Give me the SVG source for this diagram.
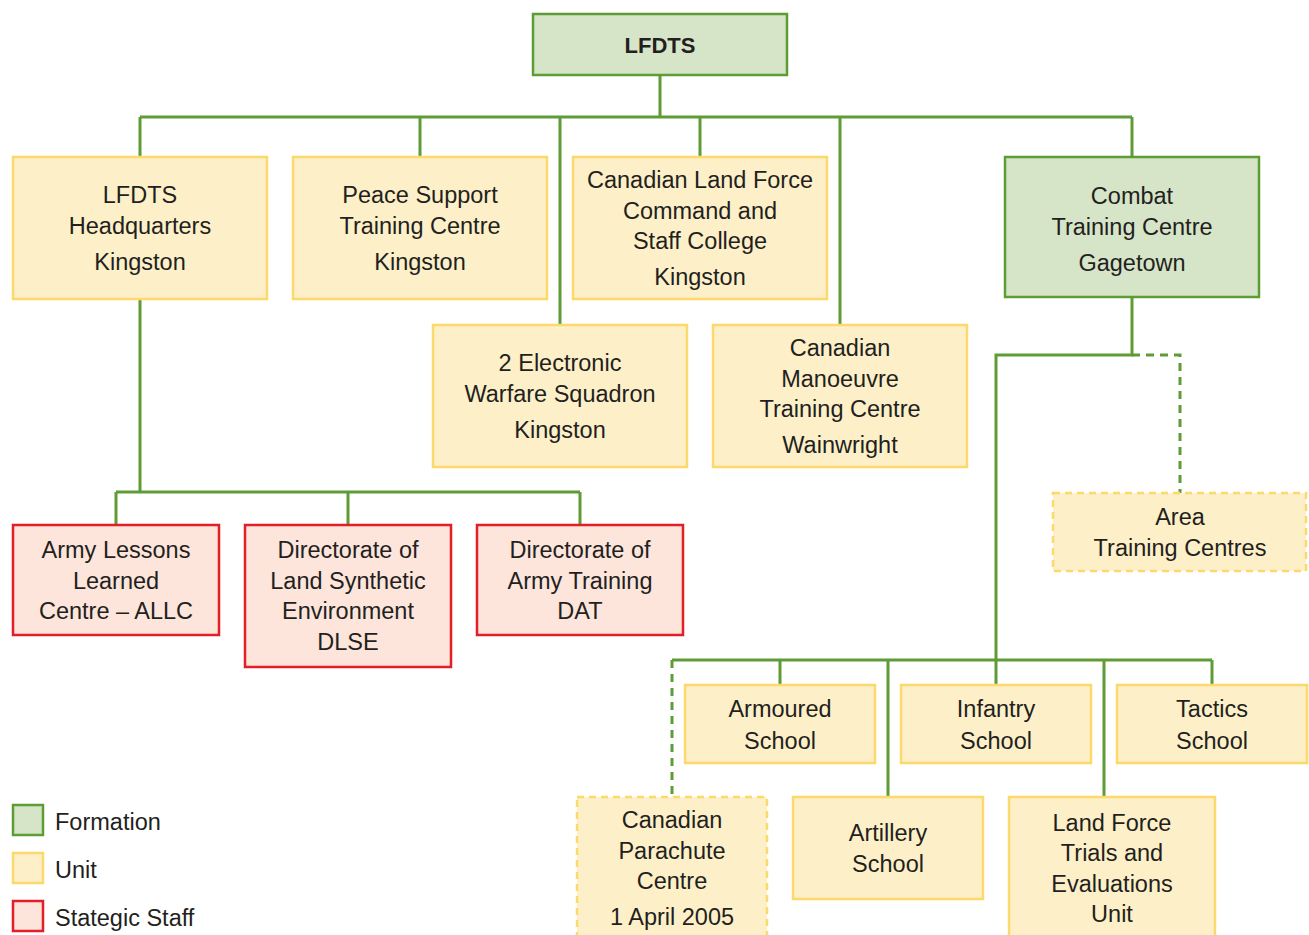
<svg xmlns="http://www.w3.org/2000/svg" width="1309" height="935" viewBox="0 0 1309 935">
<style>
.t{font-family:"Liberation Sans",Arial,sans-serif;font-size:23.5px;fill:#231f20;text-anchor:middle}
.b{font-weight:bold;font-size:22px}
.lg{text-anchor:start}
.f{fill:#d6e4c8;stroke:#5e9c36;stroke-width:2.5}
.u{fill:#fdf0c8;stroke:#fcd96a;stroke-width:2.5}
.ud{fill:#fdf0c8;stroke:#fcd96a;stroke-width:2.5;stroke-dasharray:7 5}
.s{fill:#fde5dc;stroke:#e31e27;stroke-width:2.5}
.c{fill:none;stroke:#5e9c36;stroke-width:3}
.cd{fill:none;stroke:#5e9c36;stroke-width:3;stroke-dasharray:8 6}
</style>
<rect width="1309" height="935" fill="#ffffff"/>
<g id="connectors">
<path class="c" d="M660 75V117M140 117H1132M140 117V157M420 117V157M560 117V325M700 117V157M840 117V325M1132 117V157"/>
<path class="c" d="M140 299V492M116 492H580M116 492V525M348 492V525M580 492V525"/>
<path class="c" d="M1132 297V355H996V660M672 660H1212M780 660V685M888 660V797M996 660V685M1104 660V797M1212 660V685"/>
<path class="cd" d="M1132 355H1180V493"/>
<path class="cd" d="M672 660V797"/>
</g>
<g id="lfdts"><rect class="f" x="533" y="14" width="254" height="61"/><text class="t b" x="660" y="53">LFDTS</text></g>
<g id="hq"><rect class="u" x="13" y="157" width="254" height="142"/><text class="t" x="140" y="203">LFDTS</text><text class="t" x="140" y="234">Headquarters</text><text class="t" x="140" y="270">Kingston</text></g>
<g id="pstc"><rect class="u" x="293" y="157" width="254" height="142"/><text class="t" x="420" y="203">Peace Support</text><text class="t" x="420" y="234">Training Centre</text><text class="t" x="420" y="270">Kingston</text></g>
<g id="clfcsc"><rect class="u" x="573" y="157" width="254" height="142"/><text class="t" x="700" y="188">Canadian Land Force</text><text class="t" x="700" y="219">Command and</text><text class="t" x="700" y="249">Staff College</text><text class="t" x="700" y="285">Kingston</text></g>
<g id="ctc"><rect class="f" x="1005" y="157" width="254" height="140"/><text class="t" x="1132" y="204">Combat</text><text class="t" x="1132" y="235">Training Centre</text><text class="t" x="1132" y="271">Gagetown</text></g>
<g id="ew"><rect class="u" x="433" y="325" width="254" height="142"/><text class="t" x="560" y="371">2 Electronic</text><text class="t" x="560" y="402">Warfare Squadron</text><text class="t" x="560" y="438">Kingston</text></g>
<g id="cmtc"><rect class="u" x="713" y="325" width="254" height="142"/><text class="t" x="840" y="356">Canadian</text><text class="t" x="840" y="387">Manoeuvre</text><text class="t" x="840" y="417">Training Centre</text><text class="t" x="840" y="453">Wainwright</text></g>
<g id="allc"><rect class="s" x="13" y="525" width="206" height="110"/><text class="t" x="116" y="558">Army Lessons</text><text class="t" x="116" y="589">Learned</text><text class="t" x="116" y="619">Centre – ALLC</text></g>
<g id="dlse"><rect class="s" x="245" y="525" width="206" height="142"/><text class="t" x="348" y="558">Directorate of</text><text class="t" x="348" y="589">Land Synthetic</text><text class="t" x="348" y="619">Environment</text><text class="t" x="348" y="650">DLSE</text></g>
<g id="dat"><rect class="s" x="477" y="525" width="206" height="110"/><text class="t" x="580" y="558">Directorate of</text><text class="t" x="580" y="589">Army Training</text><text class="t" x="580" y="619">DAT</text></g>
<g id="atc"><rect class="ud" x="1053" y="493" width="253" height="78"/><text class="t" x="1180" y="525">Area</text><text class="t" x="1180" y="556">Training Centres</text></g>
<g id="armoured"><rect class="u" x="685" y="685" width="190" height="78"/><text class="t" x="780" y="717">Armoured</text><text class="t" x="780" y="749">School</text></g>
<g id="infantry"><rect class="u" x="901" y="685" width="190" height="78"/><text class="t" x="996" y="717">Infantry</text><text class="t" x="996" y="749">School</text></g>
<g id="tactics"><rect class="u" x="1117" y="685" width="190" height="78"/><text class="t" x="1212" y="717">Tactics</text><text class="t" x="1212" y="749">School</text></g>
<g id="cpc"><rect class="ud" x="577" y="797" width="190" height="145"/><text class="t" x="672" y="828">Canadian</text><text class="t" x="672" y="859">Parachute</text><text class="t" x="672" y="889">Centre</text><text class="t" x="672" y="925">1 April 2005</text></g>
<g id="artillery"><rect class="u" x="793" y="797" width="190" height="102"/><text class="t" x="888" y="841">Artillery</text><text class="t" x="888" y="872">School</text></g>
<g id="lfteu"><rect class="u" x="1009" y="797" width="206" height="145"/><text class="t" x="1112" y="831">Land Force</text><text class="t" x="1112" y="861">Trials and</text><text class="t" x="1112" y="892">Evaluations</text><text class="t" x="1112" y="922">Unit</text></g>
<g id="legend">
<rect class="f" x="13" y="805" width="30" height="30"/><text class="t lg" x="55" y="830">Formation</text>
<rect class="u" x="13" y="853" width="30" height="30"/><text class="t lg" x="55" y="878">Unit</text>
<rect class="s" x="13" y="901" width="30" height="30"/><text class="t lg" x="55" y="926">Stategic Staff</text>
</g>
</svg>
